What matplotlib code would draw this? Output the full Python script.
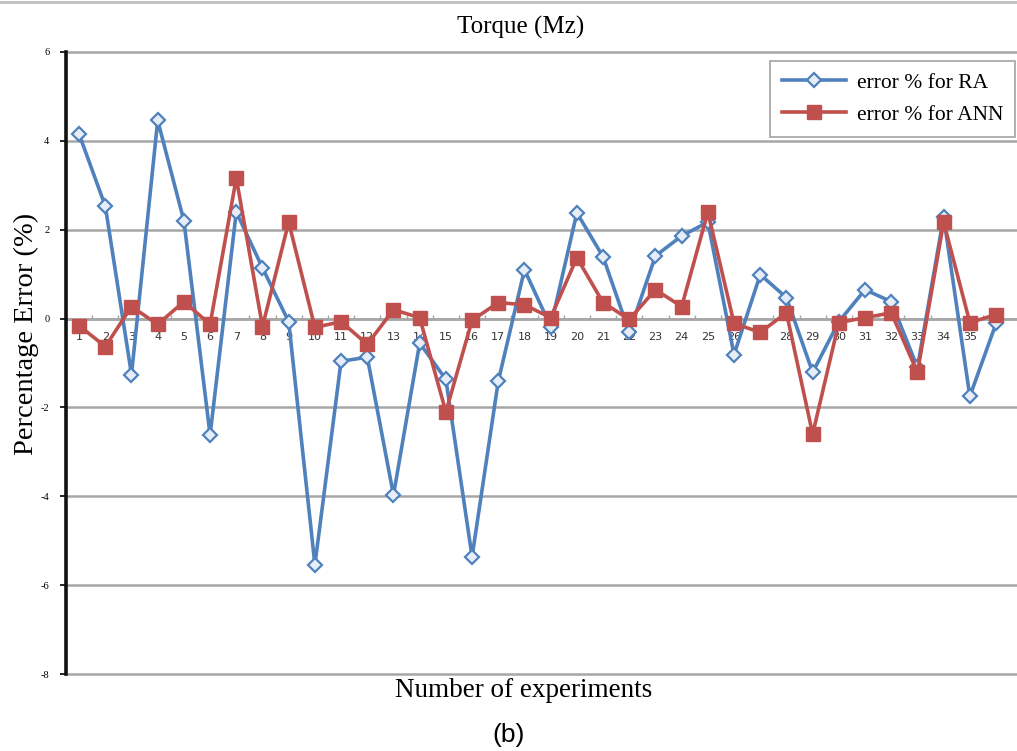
import matplotlib
matplotlib.use("Agg")
import matplotlib.pyplot as plt
import numpy as np

# experiment numbers and percentage errors
experiments = list(range(1, 37))
error_ra = [4.15, 2.53, -1.26, 4.46, 2.2, -2.62, 2.4, 1.14, -0.07, -5.54,
            -0.96, -0.87, -3.97, -0.55, -1.37, -5.36, -1.41, 1.1, -0.18, 2.38,
            1.39, -0.31, 1.41, 1.86, 2.17, -0.81, 0.99, 0.47, -1.21, -0.07,
            0.65, 0.38, -1.1, 2.29, -1.75, -0.11]
error_ann = [-0.16, -0.63, 0.27, -0.13, 0.38, -0.13, 3.16, -0.18, 2.17, -0.2,
             -0.07, -0.58, 0.2, 0.02, -2.1, -0.04, 0.36, 0.31, 0.02, 1.37,
             0.36, -0.02, 0.65, 0.27, 2.4, -0.11, -0.31, 0.13, -2.6, -0.09,
             0.02, 0.13, -1.21, 2.17, -0.09, 0.09]
tick_labels = [str(i) for i in range(1, 36)]
y_ticks = [-8, -6, -4, -2, 0, 2, 4, 6]

serif = ['Liberation Serif', 'DejaVu Serif']

fig = plt.figure(figsize=(10.17, 7.51), dpi=100)
ax = fig.add_axes([0.0649, 0.1025, 0.9351, 0.8283])

# horizontal grid
for yv in y_ticks:
    ax.axhline(yv, color='#a6a6a6', lw=1.8, zorder=1, clip_on=False)

ax.plot(experiments, error_ra, color='#4f81bd', lw=2.6, marker='D', ms=7,
        mfc='#e6edf7', mec='#4f81bd', mew=1.6, label='error % for RA', zorder=3)
ax.plot(experiments, error_ann, color='#c0504d', lw=2.6, marker='s', ms=9.5,
        mfc='#c0504d', mec='#c0504d', label='error % for ANN', zorder=4)

ax.set_xlim(0.5, 36.8)
ax.set_ylim(-8, 6)

# category axis sits on the zero line
ax.spines['bottom'].set_position(('data', 0))
ax.spines['bottom'].set_color('#a6a6a6')
ax.spines['bottom'].set_linewidth(1.8)
for s in ['top', 'right']:
    ax.spines[s].set_visible(False)
ax.spines['left'].set_linewidth(2.6)
ax.spines['left'].set_color('#111111')
ax.spines['left'].set_zorder(5)

ax.set_xticks(range(1, 36))
ax.set_xticklabels(tick_labels, fontsize=8, color='#333333')
ax.set_xticks(np.arange(1.5, 36.5, 1), minor=True)
ax.tick_params(axis='x', which='major', length=0, pad=10)
ax.tick_params(axis='x', which='minor', length=3, direction='in',
               color='#a6a6a6', width=1)

ax.set_yticks(y_ticks)
ax.set_yticklabels([str(v) for v in y_ticks], fontsize=7.5, family=serif)
ax.tick_params(axis='y', length=4, width=1.2, direction='out', pad=8)

fig.text(0.026, 0.556, 'Percentage Error (%)', ha='center', va='center',
         rotation=90, fontsize=20.5, family=serif)
fig.text(0.515, 0.081, 'Number of experiments', ha='center', va='center',
         fontsize=19.5, family=serif)
fig.text(0.5, 0.021, '(b)', ha='center', va='center', fontsize=19,
         family=['Liberation Sans', 'DejaVu Sans'])
fig.text(0.512, 0.963, 'Torque (Mz)', ha='center', va='center', fontsize=18,
         family=serif)

leg = ax.legend(loc='upper left', bbox_to_anchor=(0.729, 1.003),
                prop={'family': serif, 'size': 15.5}, frameon=True,
                fancybox=False, edgecolor='#8c8c8c', borderpad=0.55,
                handlelength=3.0, handletextpad=0.5, labelspacing=0.55)
leg.get_frame().set_linewidth(1.2)
leg.set_zorder(6)

# thin border line across the top of the figure
fig.add_artist(plt.Line2D([0, 1], [0.997, 0.997], color='#bfbfbf', lw=2,
                          transform=fig.transFigure))

fig.savefig('out.png', dpi=100)
